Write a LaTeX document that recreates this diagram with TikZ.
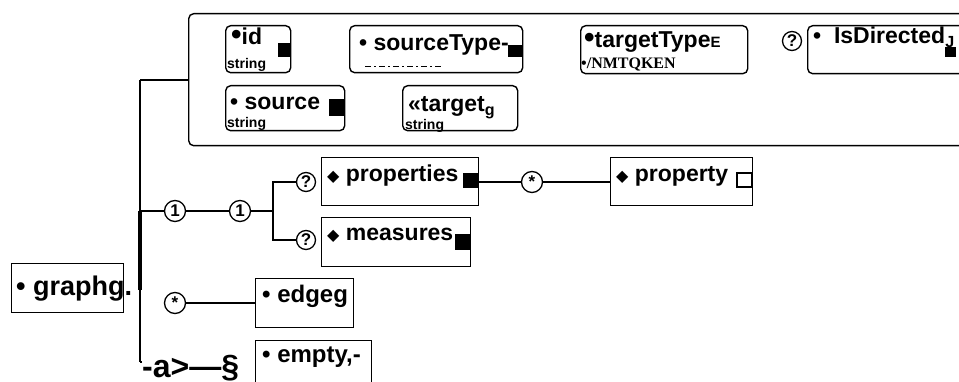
\documentclass[tikz,border=0pt]{standalone}
\usepackage{fontspec}
\setmainfont{Liberation Sans}
\newfontfamily\dv{DejaVu Sans}
\newfontfamily\tms{Liberation Serif}
\begin{document}
\begin{tikzpicture}[x=1pt,y=-1pt,
  box/.style={draw, line width=1.4pt, anchor=north west, inner sep=0pt},
  abox/.style={box, rounded corners=5pt},
  lab/.style={anchor=base west, inner sep=0pt, font=\bfseries\fontsize{23}{23}\selectfont},
  sub/.style={anchor=base west, inner sep=0pt, font=\bfseries\fontsize{14}{14}\selectfont},
  cnt/.style={circle, draw, line width=1.3pt, minimum size=21pt, inner sep=0pt, fill=white, font=\bfseries\fontsize{17}{17}\selectfont},
  ln/.style={line width=1.4pt}]
\useasboundingbox (0,0) rectangle (959,382);

% attribute container
\node[abox, minimum width=800pt, minimum height=132pt] (attrs) at (188,13) {};
\node[abox, minimum width=65pt, minimum height=47pt] (id) at (225,25) {};
\node[abox, minimum width=173pt, minimum height=47pt] (stype) at (349,25) {};
\node[abox, minimum width=167pt, minimum height=48pt] (ttype) at (580,25) {};
\node[abox, minimum width=160pt, minimum height=48pt] (isdir) at (807,25) {};
\node[abox, minimum width=119pt, minimum height=45pt] (src) at (225,85) {};
\node[abox, minimum width=115pt, minimum height=45pt] (tgt) at (402,85) {};
\node[cnt, minimum size=19pt] (qdir) at (792,41) {?};

\node[lab] (idl) at (231,45) {{\fontsize{30}{30}\selectfont•}id};
\node[sub] (ids) at (227,69) {string};
\fill (278,43) rectangle (290,57);
\node[lab] (stl) at (359,51) {•\ sourceType-};
\fill (508,45) rectangle (522,57);
\draw[line width=1pt, dash pattern=on 6pt off 3pt on 2pt off 3pt] (365,67) -- (443,67);
\node[lab] (ttl) at (584,48) {{\fontsize{30}{30}\selectfont•}targetType{\fontsize{15}{15}\selectfont E}};
\node[sub, font=\tms\bfseries\fontsize{16}{16}\selectfont] (tts) at (581,69) {•/NMTQKEN};
\node[lab] (idl2) at (813,44) {•\ \ IsDirected\textsubscript{J}};
\fill (945,47) rectangle (956,57);
\node[lab] (srcl) at (230,110) {•\ source};
\node[sub] (srcs) at (227,128) {string};
\fill (329,99) rectangle (344,116);
\node[lab] (tgtl) at (408,112) {«target\textsubscript{g}};
\node[sub] (tgts) at (405,130) {string};

% main element
\node[box, minimum width=112pt, minimum height=49pt] (graph) at (11,263) {};
\node[lab, font=\bfseries\fontsize{27}{27}\selectfont] (graphl) at (16,295) {•\ graphg.};
\coordinate (top) at (140,80);
\coordinate (bot) at (140,362);
\draw[ln, line width=2pt] (top) -- (bot);
\draw[line width=3.5pt] (140,211) -- (140,290);
\draw[ln] (attrs.west |- top) -- (top);

% sequence
\node[cnt] (one1) at (175,211) {1};
\node[cnt] (one2) at (240,211) {1};
\coordinate (fork) at (273,211);
\draw[ln] (140,211) -- (one1) -- (one2) -- (fork);
\node[cnt, minimum size=19pt] (q1) at (306,182) {?};
\node[cnt, minimum size=19pt] (q2) at (306,240) {?};
\draw[ln] (q1) -| (fork) |- (q2);
\node[box, minimum width=157pt, minimum height=48pt] (props) at (321,157) {};
\node[box, minimum width=149pt, minimum height=49pt] (meas) at (321,217) {};
\node[lab] (propsl) at (327,182) {{\dv\fontsize{16}{16}\selectfont◆} properties};
\node[lab] (measl) at (327,241) {{\dv\fontsize{16}{16}\selectfont◆} measures};
\fill (463,173) rectangle (478,188);
\fill (455,234) rectangle (470,250);
\node[cnt] (star1) at (532,182) {*};
\node[box, minimum width=142pt, minimum height=48pt] (prop) at (610,157) {};
\node[lab] (propl) at (616,182) {{\dv\fontsize{16}{16}\selectfont◆} property};
\draw[line width=1.2pt] (737,173) rectangle (752,187);
\draw[ln] (props.east |- star1) -- (star1) -- (prop.west |- star1);

% edge
\node[cnt] (star2) at (175,303) {*};
\node[box, minimum width=98pt, minimum height=49pt] (edge) at (255,278) {};
\node[lab, font=\bfseries\fontsize{24}{24}\selectfont] (edgel) at (262,302) {•\ edgeg};
\draw[ln] (star2) -- (edge.west |- star2);

% empty
\node[box, minimum width=116pt, minimum height=60pt] (empty) at (255,340) {};
\node[lab, font=\bfseries\fontsize{24}{24}\selectfont] (emptyl) at (262,362) {•\ empty,-};
\node[anchor=base west, inner sep=0pt, font=\bfseries\fontsize{32}{32}\selectfont] (arr) at (142,377) {-a>—§};
\draw[ln] (bot) -- (arr.west |- bot);
\end{tikzpicture}
\end{document}
